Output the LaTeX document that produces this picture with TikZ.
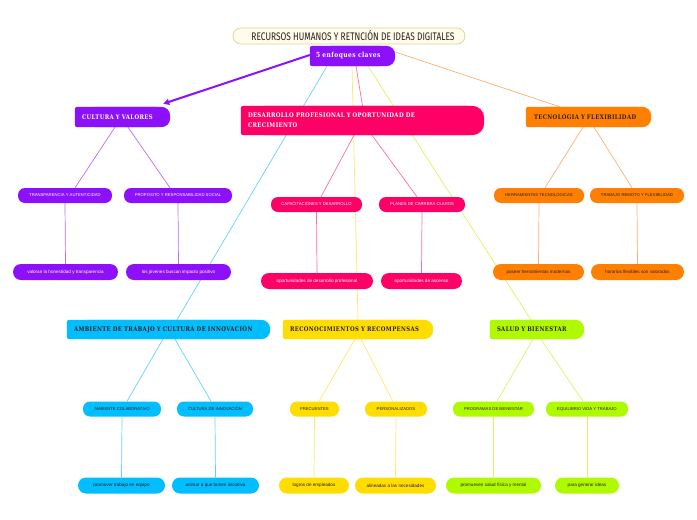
\documentclass[tikz,border=0pt]{standalone}
\usepackage{fontspec}
\setmainfont{Liberation Sans}
\newfontfamily\titlefont{Fira Sans}[FakeStretch=0.76]
\newfontfamily\topicfont{DejaVu Serif}[FakeStretch=0.85,LetterSpace=6]
\usetikzlibrary{backgrounds,calc,arrows.meta}
\definecolor{cpurple}{RGB}{140,16,250}
\definecolor{cpink}{RGB}{255,0,102}
\definecolor{corange}{RGB}{255,128,0}
\definecolor{ccyan}{RGB}{0,190,255}
\definecolor{cyellow}{RGB}{255,221,0}
\definecolor{clime}{RGB}{175,250,0}
\definecolor{lpurple}{RGB}{185,110,255}
\definecolor{lpink}{RGB}{255,110,160}
\definecolor{lorange}{RGB}{255,175,115}
\definecolor{lcyan}{RGB}{100,210,255}
\definecolor{lyellow}{RGB}{255,232,110}
\definecolor{llime}{RGB}{210,248,100}
\definecolor{cdark}{RGB}{45,30,30}
\definecolor{ctitle}{RGB}{255,252,235}
\definecolor{ctitleb}{RGB}{225,212,160}
\newcommand\topicshape[3]{% name, color, radius
  \fill[#2, rounded corners=2.5pt] (#1.south west) rectangle ($(#1.north east)+(-12,0)$);
  \fill[#2, rounded corners=#3] ($(#1.south west)+(12,0)$) rectangle (#1.north east);
}
\begin{document}
\begin{tikzpicture}[x=1pt,y=-1pt,
  topic/.style={inner xsep=7pt, inner ysep=0pt, align=left, font=\topicfont\bfseries\fontsize{6.3}{10}\selectfont},
  sub/.style={rounded corners=7pt, inner sep=0pt, minimum height=15pt, align=center, font=\fontsize{4.2}{5}\selectfont},
  leaf/.style={rounded corners=8pt, inner sep=0pt, minimum height=16pt, align=center, font=\fontsize{4.6}{5}\selectfont},
  link/.style={line width=0.7pt},
  wtext/.style={text=white},
  dtext/.style={text=cdark}]
\useasboundingbox (0,0) rectangle (697,520);

% title and root
\node[draw=ctitleb, line width=0.8pt, fill=ctitle, rounded corners=8pt, minimum width=232pt, minimum height=16pt, inner sep=0pt, text=cdark, font=\titlefont\fontsize{11}{12}\selectfont] (title) at (349,36) {\hspace*{8pt}RECURSOS HUMANOS Y RETNCIÓN DE IDEAS DIGITALES};
\node[topic, wtext, inner xsep=6pt, text width=73pt, minimum height=20pt, font=\topicfont\bfseries\fontsize{7}{10}\selectfont] (root) at (352.5,56) {5 enfoques claves};

% main topics
\node[topic, wtext, text width=81pt, minimum height=20pt] (cult) at (122.5,117) {CULTURA Y VALORES};
\node[topic, wtext, text width=229pt, minimum height=29pt] (des) at (362.5,120.5) {DESARROLLO PROFESIONAL Y OPORTUNIDAD DE\\CRECIMIENTO};
\node[topic, dtext, inner xsep=8pt, text width=109pt, minimum height=20pt] (tec) at (588.5,117) {TECNOLOGIA Y FLEXIBILIDAD};
\node[topic, dtext, text width=189pt, minimum height=19pt] (amb) at (168.5,329.5) {AMBIENTE DE TRABAJO Y CULTURA DE INNOVACIÓN};
\node[topic, dtext, text width=136pt, minimum height=19pt] (reco) at (358,329.5) {RECONOCIMIENTOS Y RECOMPENSAS};
\node[topic, dtext, text width=80pt, minimum height=19pt] (salud) at (537,329.5) {SALUD Y BIENESTAR};

% subtopics
\node[sub, fill=cpurple, wtext, minimum width=94pt] (transp) at (65,195.5) {TRANSPARENCIA Y AUTENTICIDAD};
\node[sub, fill=cpurple, wtext, minimum width=108pt] (prop) at (178,195.5) {PROPOSITO Y RESPONSABILIDAD SOCIAL};
\node[sub, fill=cpink, wtext, minimum width=91pt] (cap) at (316.5,204.5) {CAPACITACIONES Y DESARROLLO};
\node[sub, fill=cpink, wtext, minimum width=86pt] (plan) at (422,204.5) {PLANES DE CARRERA CLAROS};
\node[sub, fill=corange, dtext, minimum width=90pt] (herr) at (539,195.5) {HERRAMIENTAS TECNOLOGICAS};
\node[sub, fill=corange, dtext, minimum width=94pt] (trab) at (637,195.5) {TRABAJO REMOTO Y FLEXIBILIDAD};
\node[sub, fill=ccyan, dtext, minimum width=78pt] (colab) at (122,409) {AMBIENTE COLABORATIVO};
\node[sub, fill=ccyan, dtext, minimum width=76pt] (inno) at (215,409) {CULTURA DE INNOVACIÓN};
\node[sub, fill=cyellow, dtext, minimum width=49pt] (frec) at (314.5,409) {FRECUENTES};
\node[sub, fill=cyellow, dtext, minimum width=62pt] (pers) at (396,409) {PERSONALIZADOS};
\node[sub, fill=clime, dtext, minimum width=81pt] (prog) at (493.5,409) {PROGRAMAS DE BIENESTAR};
\node[sub, fill=clime, dtext, minimum width=82pt] (equi) at (587,409) {EQUILIBRIO VIDA Y TRABAJO};

% leaves
\node[leaf, fill=cpurple, wtext, minimum width=105pt] (val) at (65.5,272) {valoran la honestidad y transparencia};
\node[leaf, fill=cpurple, wtext, minimum width=105pt] (jov) at (178.5,272) {los jovenes buscan impacto positivo};
\node[leaf, fill=cpink, wtext, minimum width=112pt] (opd) at (317,281) {oportunidades de desarrollo profesional};
\node[leaf, fill=cpink, wtext, minimum width=81pt] (opa) at (421.5,281) {oportunidades de ascenso};
\node[leaf, fill=corange, dtext, minimum width=91pt] (pos) at (538.5,272) {poseer herramientas modernas};
\node[leaf, fill=corange, dtext, minimum width=93pt] (hor) at (637.5,272) {horarios flexibles son valorados};
\node[leaf, fill=ccyan, dtext, minimum width=87pt] (prom) at (121.5,485.5) {promover trabajo en equipo};
\node[leaf, fill=ccyan, dtext, minimum width=87pt] (anim) at (215.5,485.5) {animar a que tomen iniciativa};
\node[leaf, fill=cyellow, dtext, minimum width=70pt] (logr) at (314,485.5) {logros de empleados};
\node[leaf, fill=cyellow, dtext, minimum width=81pt] (alin) at (395.5,485.5) {alineadas a las necesidades};
\node[leaf, fill=clime, dtext, minimum width=95pt] (prue) at (493.5,485.5) {promueven salud física y mental};
\node[leaf, fill=clime, dtext, minimum width=64pt] (gen) at (587,485.5) {para generar ideas};

\begin{scope}[on background layer]
\fill[white] (0,0) rectangle (697,520);
% root connectors
\draw[link, lcyan] ($(root.south)+(-25.5,0)$) -- ($(amb.north)+(8.5,0)$);
\draw[link, lyellow] ($(root.south)+(-0.5,0)$) -- (reco.north);
\draw[link, lpink] ($(root.south)+(3.5,0)$) -- (des.north);
\draw[link, llime] ($(root.south)+(15.5,0)$) -- ($(salud.north)+(-6,0)$);
\draw[link, lorange] ($(root.east)+(0,-4)$) -- ($(tec.north)+(-28.5,0)$);
\draw[cpurple, line width=2pt, -{Triangle[length=6pt,width=6pt]}] ($(root.west)+(0,-1)$) -- ($(cult.north east)+(-7,-3)$);
% sub connectors
\draw[link, lpurple] ($(cult.south)+(-7.5,0)$) -- ($(transp.north)+(10,0)$);
\draw[link, lpurple] ($(cult.south)+(5.5,0)$) -- ($(prop.north)+(-8,0)$);
\draw[link, lpink] ($(des.south)+(-8.5,0)$) -- ($(cap.north)+(4.5,0)$);
\draw[link, lpink] ($(des.south)+(9.5,0)$) -- ($(plan.north)+(-5,0)$);
\draw[link, lorange] ($(tec.south)+(-5.5,0)$) -- ($(herr.north)+(6,0)$);
\draw[link, lorange] ($(tec.south)+(5.5,0)$) -- ($(trab.north)+(-5,0)$);
\draw[link, lcyan] ($(amb.south)+(-5.5,0)$) -- ($(colab.north)+(5,0)$);
\draw[link, lcyan] ($(amb.south)+(6.5,0)$) -- ($(inno.north)+(-4,0)$);
\draw[link, lyellow] ($(reco.south)+(-3,0)$) -- ($(frec.north)+(4.5,0)$);
\draw[link, lyellow] ($(reco.south)+(3,0)$) -- ($(pers.north)+(-3,0)$);
\draw[link, llime] ($(salud.south)+(-4,0)$) -- ($(prog.north)+(3.5,0)$);
\draw[link, llime] ($(salud.south)+(4,0)$) -- ($(equi.north)+(-4,0)$);
% leaf connectors
\draw[link, lpurple] (transp.south) -- (val.north);
\draw[link, lpurple] (prop.south) -- (jov.north);
\draw[link, lpink] (cap.south) -- (opd.north);
\draw[link, lpink] (plan.south) -- (opa.north);
\draw[link, lorange] (herr.south) -- (pos.north);
\draw[link, lorange] (trab.south) -- (hor.north);
\draw[link, lcyan] (colab.south) -- (prom.north);
\draw[link, lcyan] (inno.south) -- (anim.north);
\draw[link, lyellow] (frec.south) -- (logr.north);
\draw[link, lyellow] (pers.south) -- (alin.north);
\draw[link, llime] (prog.south) -- (prue.north);
\draw[link, llime] (equi.south) -- (gen.north);
% topic shapes
\topicshape{root}{cpurple}{9pt}
\topicshape{cult}{cpurple}{9pt}
\topicshape{des}{cpink}{12pt}
\topicshape{tec}{corange}{9pt}
\topicshape{amb}{ccyan}{9pt}
\topicshape{reco}{cyellow}{9pt}
\topicshape{salud}{clime}{9pt}
\end{scope}
\end{tikzpicture}
\end{document}
